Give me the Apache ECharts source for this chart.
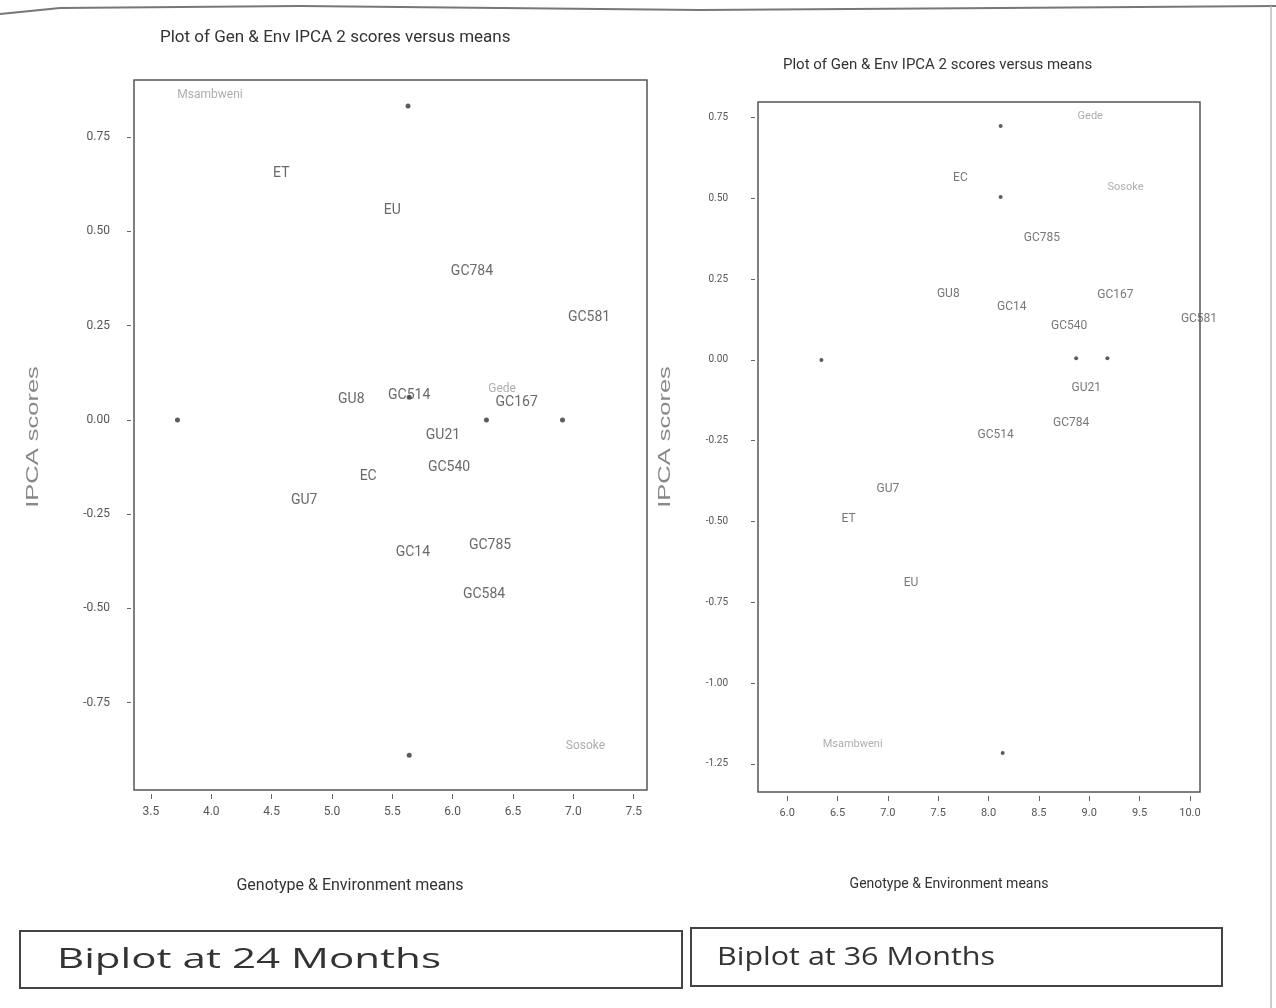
<!DOCTYPE html>
<html><head><meta charset="utf-8">
<script src="https://cdn.jsdelivr.net/npm/echarts@6/dist/echarts.min.js"></script>
<style>html,body{margin:0;padding:0;background:#fff}#c{width:1276px;height:1008px}</style>
</head><body><div id="c"></div>
<script>
// ---------- data: Biplot at 24 months ----------
const dots24X = [5.63, 3.72, 6.28, 6.91, 5.64, 5.64];
const dots24Y = [0.833, 0.0, 0.0, 0.0, -0.89, 0.06];
const geno24Names = ['ET','EU','GC784','GC581','GU8','GC514','GC167','GU21','GC540','EC','GU7','GC14','GC785','GC584'];
const geno24X = [4.58, 5.50, 6.16, 7.13, 5.16, 5.64, 6.53, 5.92, 5.97, 5.30, 4.77, 5.67, 6.31, 6.26];
const geno24Y = [0.653, 0.555, 0.393, 0.271, 0.053, 0.066, 0.045, -0.042, -0.127, -0.151, -0.215, -0.353, -0.334, -0.464];
const env24Names = ['Msambweni','Gede','Sosoke'];
const env24X = [3.99, 6.41, 7.10];
const env24Y = [0.863, 0.082, -0.865];
const xTicks24 = [3.5, 4.0, 4.5, 5.0, 5.5, 6.0, 6.5, 7.0, 7.5];
const yTicks24 = [-0.75, -0.5, -0.25, 0, 0.25, 0.5, 0.75];

// ---------- data: Biplot at 36 months ----------
const dots36X = [8.12, 8.12, 6.34, 8.87, 9.18, 8.14];
const dots36Y = [0.724, 0.504, 0.0, 0.005, 0.005, -1.216];
const geno36Names = ['EC','GC785','GU8','GC14','GC167','GC540','GC581','GU21','GC784','GC514','GU7','ET','EU'];
const geno36X = [7.72, 8.53, 7.60, 8.23, 9.26, 8.80, 10.09, 8.97, 8.82, 8.07, 7.00, 6.61, 7.23];
const geno36Y = [0.563, 0.377, 0.204, 0.164, 0.201, 0.105, 0.127, -0.087, -0.195, -0.232, -0.399, -0.492, -0.690];
const env36Names = ['Gede','Sosoke','Msambweni'];
const env36X = [9.01, 9.36, 6.65];
const env36Y = [0.755, 0.535, -1.188];
const xTicks36 = [6.0, 6.5, 7.0, 7.5, 8.0, 8.5, 9.0, 9.5, 10.0];
const yTicks36 = [-1.25, -1.0, -0.75, -0.5, -0.25, 0, 0.25, 0.5, 0.75];

const NARROW = '"Liberation Sans Narrow","Arial Narrow","Roboto",sans-serif';

function pts(xs, ys){ return xs.map((x,i)=>[x, ys[i]]); }
function lbls(names, xs, ys){ return names.map((n,i)=>({name:n, value:[xs[i], ys[i]]})); }

function xAxisCfg(idx, min, max, ticks, fs){
  return {type:'value', gridIndex:idx, min:min, max:max, offset:4, position:'bottom',
    splitLine:{show:false}, axisLine:{show:false, onZero:false},
    axisTick:{show:true, length:5, customValues:ticks, lineStyle:{color:'#666'}},
    axisLabel:{show:true, customValues:ticks, margin:12, color:'#555', fontFamily:NARROW, fontSize:fs,
      formatter:v=>v.toFixed(1)}};
}
function yAxisCfg(idx, min, max, ticks, margin, fs){
  return {type:'value', gridIndex:idx, min:min, max:max, offset:3, position:'left',
    splitLine:{show:false}, axisLine:{show:false, onZero:false},
    axisTick:{show:true, length:4, customValues:ticks, lineStyle:{color:'#666'}},
    axisLabel:{show:true, customValues:ticks, margin:margin, color:'#555', fontFamily:NARROW, fontSize:fs,
      formatter:v=>v.toFixed(2)}};
}
function dotSeries(idx, data, size){
  return {type:'scatter', xAxisIndex:idx, yAxisIndex:idx, data:data, symbolSize:size,
    itemStyle:{color:'#333'}, silent:true};
}
function labelSeries(idx, data, color, fs){
  return {type:'scatter', xAxisIndex:idx, yAxisIndex:idx, data:data, symbolSize:0, clip:false,
    label:{show:true, position:'inside', formatter:'{b}', color:color, fontFamily:NARROW, fontSize:fs},
    labelLayout:{hideOverlap:false}, silent:true};
}

const chart = echarts.init(document.getElementById('c'));
chart.setOption({
  animation:false,
  backgroundColor:'#fff',
  grid:[
    {left:134, top:80, width:513, height:710, show:true, borderColor:'#555', borderWidth:1.5, backgroundColor:'transparent'},
    {left:758, top:102, width:442, height:690, show:true, borderColor:'#555', borderWidth:1.5, backgroundColor:'transparent'}
  ],
  xAxis:[ xAxisCfg(0, 3.36, 7.61, xTicks24, 12), xAxisCfg(1, 5.71, 10.10, xTicks36, 11) ],
  yAxis:[ yAxisCfg(0, -0.982, 0.902, yTicks24, 21, 12), yAxisCfg(1, -1.337, 0.798, yTicks36, 27, 10) ],
  series:[
    dotSeries(0, pts(dots24X, dots24Y), 5),
    labelSeries(0, lbls(geno24Names, geno24X, geno24Y), '#444', 14),
    labelSeries(0, lbls(env24Names, env24X, env24Y), '#999', 12),
    dotSeries(1, pts(dots36X, dots36Y), 4),
    labelSeries(1, lbls(geno36Names, geno36X, geno36Y), '#555', 12),
    labelSeries(1, lbls(env36Names, env36X, env36Y), '#999', 11)
  ],
  graphic:[
    {type:'polyline', shape:{points:[[0,14],[60,8],[300,6],[700,10],[1000,8],[1276,6]]}, style:{stroke:'#777', lineWidth:2, fill:null}, silent:true},
    {type:'line', shape:{x1:1271, y1:6, x2:1271, y2:1008}, style:{stroke:'#bbb', lineWidth:1.5}, silent:true},
    {type:'text', left:160, top:29, style:{text:'Plot of Gen & Env IPCA 2 scores versus means', fontFamily:NARROW, fontSize:17, fill:'#333'}},
    {type:'text', left:783, top:58, style:{text:'Plot of Gen & Env IPCA 2 scores versus means', fontFamily:NARROW, fontSize:15, fill:'#333'}},
    {type:'text', x:33, y:437, rotation:Math.PI/2, scaleX:1.5, style:{text:'IPCA scores', fontFamily:'"Liberation Sans",sans-serif', fontSize:17, fill:'#888', align:'center', verticalAlign:'middle'}},
    {type:'text', x:665, y:437, rotation:Math.PI/2, scaleX:1.5, style:{text:'IPCA scores', fontFamily:'"Liberation Sans",sans-serif', fontSize:17, fill:'#888', align:'center', verticalAlign:'middle'}},
    {type:'text', x:350, y:886, style:{text:'Genotype & Environment means', fontFamily:NARROW, fontSize:16, fill:'#333', align:'center', verticalAlign:'middle'}},
    {type:'text', x:949, y:884, style:{text:'Genotype & Environment means', fontFamily:NARROW, fontSize:14, fill:'#333', align:'center', verticalAlign:'middle'}},
    {type:'rect', shape:{x:20, y:931, width:662, height:57}, style:{stroke:'#444', lineWidth:2, fill:'#fff'}},
    {type:'rect', shape:{x:691, y:928, width:531, height:58}, style:{stroke:'#444', lineWidth:2, fill:'#fff'}},
    {type:'text', x:57, y:960, scaleX:1.56, style:{text:'Biplot at 24 Months', fontFamily:'"Open Sans",sans-serif', fontSize:27, fill:'#333', verticalAlign:'middle'}},
    {type:'text', x:717, y:958, scaleX:1.22, style:{text:'Biplot at 36 Months', fontFamily:'"Open Sans",sans-serif', fontSize:25, fill:'#333', verticalAlign:'middle'}}
  ]
});
</script>
</body></html>
